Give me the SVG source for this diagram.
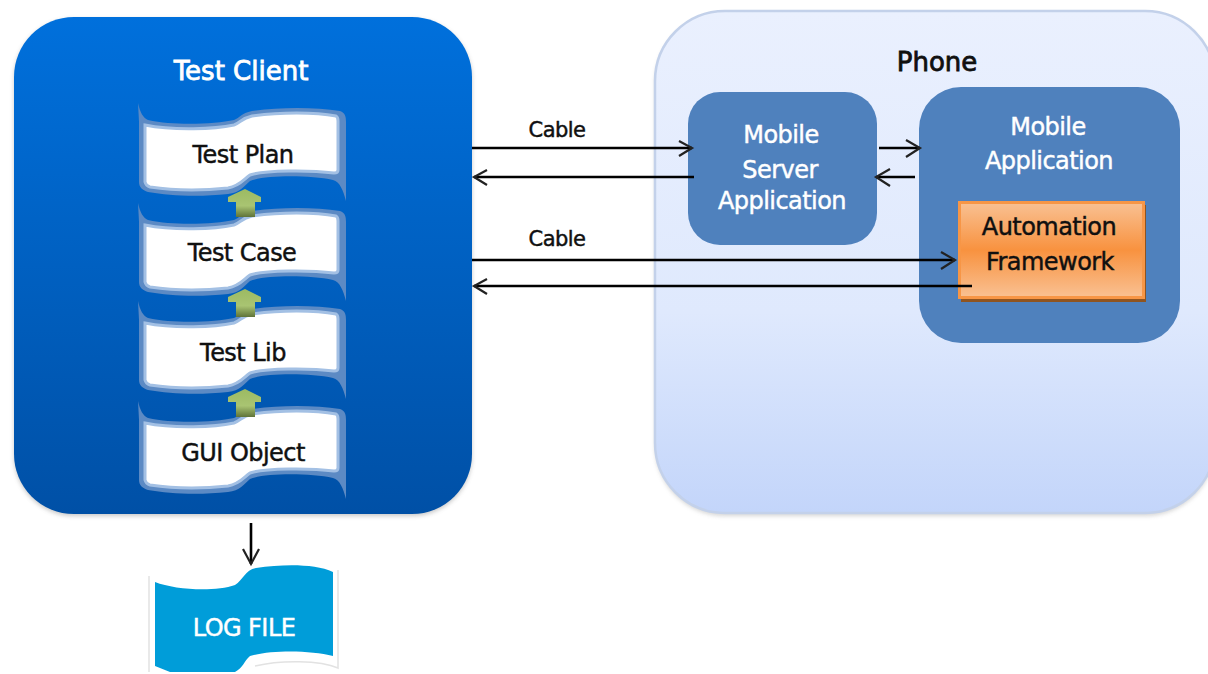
<svg xmlns="http://www.w3.org/2000/svg" width="1208" height="674" viewBox="0 0 1208 674">
<style>
text{font-family:"DejaVu Sans","Liberation Sans",sans-serif;font-size:24px;text-anchor:middle;letter-spacing:-.55px;stroke-width:.45px}
.w{fill:#fff;stroke:#fff}.k{fill:#101010;stroke:#101010}
.big{font-size:26px;letter-spacing:0;stroke-width:.8px}
.cb{font-size:21px}
.c line{stroke:#000;stroke-width:2.6;fill:none}
.c path{stroke-width:2.2;stroke:#222;fill:none}
.ap{fill:#4f81bd}
</style>
<defs>
<linearGradient id="gc" x1="0" y1="0" x2="0" y2="1"><stop offset="0" stop-color="#0070dc"/><stop offset="1" stop-color="#0050a6"/></linearGradient>
<linearGradient id="gp" x1="0" y1="0" x2="0" y2="1"><stop offset="0" stop-color="#eaf0fe"/><stop offset=".6" stop-color="#dfe9fd"/><stop offset="1" stop-color="#c3d5fa"/></linearGradient>
<linearGradient id="go" x1="0" y1="0" x2="0" y2="1"><stop offset="0" stop-color="#f9c193"/><stop offset=".5" stop-color="#f8923f"/><stop offset="1" stop-color="#f9c193"/></linearGradient>
<linearGradient id="gg" x1="0" y1="0" x2="0" y2="1"><stop offset="0" stop-color="#9cba62"/><stop offset=".6" stop-color="#a9c472"/><stop offset="1" stop-color="#5f7339"/></linearGradient>
<filter id="sh" x="-5%" y="-5%" width="110%" height="110%"><feGaussianBlur stdDeviation="2"/></filter>
<g id="scroll">
<path d="M138 103C140 112 143 118 148 120C175 126 215 124 234 120C240 118 241 113 252 111C280 107 315 107 340 111C345 113 346 116 346 122V184L346 201C343 190 340 182 333 180C310 175 265 175 250 181C244 186 240 193 228 194C200 197 170 196 148 192C142 190 139 187 139 182V122Z" fill="#5c8ac4"/>
<path d="M145 125C175 131 215 129 234 125C240 123 242 118 252 116C280 112 315 112 336 116Q338 117 338 121V170C338 172 336 173 334 173C310 170 265 170 250 175C244 179 240 186 228 188C200 191 170 190 150 187Q146 186 145 182Z" fill="#fff" stroke="#a3c0e4" stroke-width="3"/>
</g>
<path id="up" d="M245 189L261 197V202H255V217H236V202H228V197Z"/>
</defs>
<rect x="14" y="19" width="458" height="497" rx="60" fill="#888" opacity=".45" filter="url(#sh)"/>
<g id="test-client">
<rect x="14" y="17" width="458" height="497" rx="60" fill="url(#gc)"/>
<text x="241" y="80" class="w big">Test Client</text>
</g>
<g id="test-plan"><use href="#scroll"/><text x="243" y="163" class="k">Test Plan</text></g>
<g id="test-case"><use href="#scroll" y="100"/><text x="242" y="261" class="k">Test Case</text></g>
<g id="test-lib"><use href="#scroll" y="198"/><text x="243" y="361" class="k">Test Lib</text></g>
<g id="gui-object"><use href="#scroll" y="298"/><text x="243" y="461" class="k">GUI Object</text></g>
<g id="arrows-up" fill="url(#gg)"><use href="#up"/><use href="#up" y="100"/><use href="#up" y="200"/></g>
<rect x="655" y="14" width="560" height="502" rx="70" fill="#999" opacity=".4" filter="url(#sh)"/>
<g id="phone">
<rect x="655" y="11" width="560" height="502" rx="70" fill="url(#gp)" stroke="#c3d1ea" stroke-width="2.500"/>
<text x="937" y="71" class="k big">Phone</text>
</g>
<g id="mobile-server">
<rect x="688" y="92" width="189" height="153" rx="32" class="ap"/>
<text x="781" y="143" class="w">Mobile</text><text x="780" y="178" class="w">Server</text><text x="782" y="209" class="w">Application</text>
</g>
<g id="mobile-application">
<rect x="919" y="87" width="261" height="256" rx="42" class="ap"/>
<text x="1048" y="135" class="w">Mobile</text><text x="1049" y="169" class="w">Application</text>
</g>
<g id="automation-framework">
<rect x="961" y="205" width="185" height="97" fill="#8f5420"/>
<rect x="959.500" y="202.500" width="184" height="95" fill="url(#go)" stroke="#f79646" stroke-width="3"/>
<text x="1049" y="235" class="k">Automation</text><text x="1050" y="270" class="k">Framework</text>
</g>
<g id="log-file">
<path d="M149 576V672M338 570V668C320 660 280 660 255 666" fill="none" stroke="#e2e2e2" stroke-width="1.500"/>
<path d="M155 582C175 590 215 592 235 585C243 580 245 570 256 568C285 564 315 564 333 572V656C310 650 270 650 250 656C244 661 243 668 235 672H170L155 666Z" fill="#009dd9" stroke="#fff" stroke-width="8" paint-order="stroke"/>
<text x="244" y="636" class="w">LOG FILE</text>
</g>
<g id="connectors" class="c">
<line x1="472" y1="148" x2="692" y2="148"/><path d="M679 141L692 148L679 156"/>
<line x1="694" y1="177" x2="474" y2="177"/><path d="M487 170L474 177L487 185"/>
<line x1="472" y1="260" x2="955" y2="260"/><path d="M941 252L955 260L941 269"/>
<line x1="972" y1="286" x2="474" y2="286"/><path d="M487 279L474 286L487 294"/>
<line x1="879" y1="148" x2="920" y2="148"/><path d="M906 140L920 148L906 157"/>
<line x1="915" y1="177" x2="876" y2="177"/><path d="M890 169L876 177L890 186"/>
<line x1="251" y1="523" x2="251" y2="564"/><path d="M243 549L251 564L259 549"/>
</g>
<g id="labels">
<text x="557" y="137" class="k cb">Cable</text>
<text x="557" y="246" class="k cb">Cable</text>
</g>
</svg>
